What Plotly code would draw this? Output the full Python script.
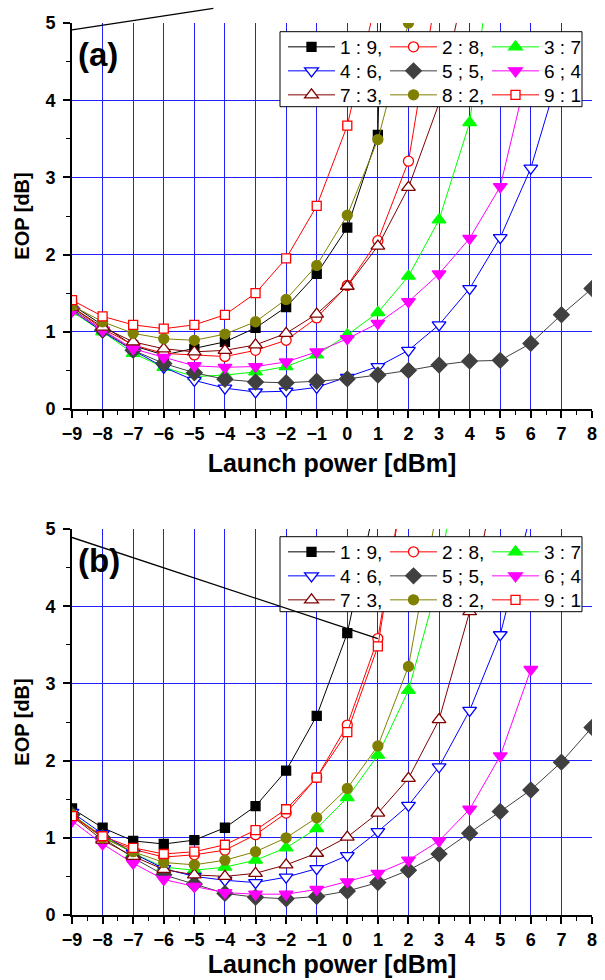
import plotly.graph_objects as go

# ---------------- data ----------------
launch_power = list(range(-9, 9))  # dBm
ratio_labels = ["1 : 9,", "2 : 8,", "3 : 7", "4 : 6,", "5 ; 5,", "6 ; 4", "7 : 3,", "8 : 2,", "9 : 1"]
x_ticks = list(range(-9, 9))
y_ticks = [0, 1, 2, 3, 4, 5]

# panel (a)
eop_a_1_9 = [1.35, 1.08, 0.82, 0.70, 0.78, 0.87, 1.05, 1.32, 1.75, 2.35, 3.55, 20.0]
eop_a_2_8 = [1.32, 1.04, 0.83, 0.72, 0.70, 0.68, 0.76, 0.89, 1.18, 1.60, 2.18, 3.21, 5.6]
eop_a_3_7 = [1.26, 1.00, 0.72, 0.54, 0.42, 0.44, 0.48, 0.55, 0.70, 0.96, 1.25, 1.72, 2.45, 3.71, 6.7]
eop_a_4_6 = [1.28, 1.00, 0.76, 0.54, 0.37, 0.27, 0.22, 0.23, 0.28, 0.41, 0.55, 0.76, 1.09, 1.56, 2.22, 3.12, 4.45]
eop_a_5_5 = [1.30, 1.02, 0.76, 0.59, 0.47, 0.385, 0.35, 0.34, 0.36, 0.39, 0.44, 0.50, 0.57, 0.62, 0.63, 0.85, 1.22, 1.56]
eop_a_6_4 = [1.27, 1.02, 0.78, 0.67, 0.56, 0.54, 0.55, 0.61, 0.74, 0.91, 1.11, 1.39, 1.75, 2.21, 2.88, 4.55]
eop_a_7_3 = [1.32, 1.06, 0.87, 0.78, 0.74, 0.76, 0.83, 0.98, 1.23, 1.59, 2.11, 2.87, 3.96, 5.8]
eop_a_8_2 = [1.34, 1.13, 0.98, 0.91, 0.89, 0.97, 1.13, 1.42, 1.86, 2.51, 3.49, 5.0, 7.5]
eop_a_9_1 = [1.41, 1.20, 1.09, 1.04, 1.09, 1.22, 1.50, 1.95, 2.63, 3.67, 5.4]

# panel (b)
eop_b_1_9 = [1.38, 1.13, 0.96, 0.92, 0.97, 1.13, 1.41, 1.87, 2.58, 3.65, 5.5]
eop_b_2_8 = [1.30, 1.00, 0.85, 0.75, 0.78, 0.84, 1.04, 1.32, 1.78, 2.46, 3.58, 6.0]
eop_b_3_7 = [1.30, 1.02, 0.80, 0.62, 0.58, 0.62, 0.71, 0.87, 1.12, 1.52, 2.07, 2.91, 4.35, 7.0]
eop_b_4_6 = [1.33, 1.05, 0.80, 0.60, 0.50, 0.45, 0.42, 0.49, 0.60, 0.77, 1.08, 1.42, 1.92, 2.65, 3.63, 5.2]
eop_b_5_5 = [1.30, 1.00, 0.74, 0.52, 0.40, 0.28, 0.23, 0.21, 0.24, 0.31, 0.42, 0.58, 0.79, 1.06, 1.34, 1.62, 1.98, 2.43]
eop_b_6_4 = [1.22, 0.92, 0.67, 0.46, 0.37, 0.29, 0.27, 0.27, 0.33, 0.43, 0.54, 0.71, 0.96, 1.37, 2.06, 3.18]
eop_b_7_3 = [1.28, 0.97, 0.76, 0.59, 0.52, 0.50, 0.54, 0.65, 0.80, 1.01, 1.32, 1.77, 2.53, 3.93, 6.0]
eop_b_8_2 = [1.30, 1.00, 0.82, 0.68, 0.65, 0.71, 0.82, 1.00, 1.26, 1.64, 2.19, 3.22, 5.4]
eop_b_9_1 = [1.28, 1.02, 0.87, 0.79, 0.82, 0.91, 1.10, 1.37, 1.78, 2.37, 3.48, 6.0]

# straight black guide segments drawn in each panel (data coordinates)
guide_a_x = [-9, -4.38]
guide_a_y = [4.91, 5.19]
guide_b_x = [-9, 1]
guide_b_y = [4.89, 3.58]

series_a = [eop_a_1_9, eop_a_2_8, eop_a_3_7, eop_a_4_6, eop_a_5_5, eop_a_6_4, eop_a_7_3, eop_a_8_2, eop_a_9_1]
series_b = [eop_b_1_9, eop_b_2_8, eop_b_3_7, eop_b_4_6, eop_b_5_5, eop_b_6_4, eop_b_7_3, eop_b_8_2, eop_b_9_1]

# ---------------- styles ----------------
styles = [
    dict(symbol="square", fill="#000000", edge="#000000", line="#000000", size=9),
    dict(symbol="circle", fill="#ffffff", edge="#ff0000", line="#ff0000", size=10),
    dict(symbol="triangle-up", fill="#00ff00", edge="#00ff00", line="#00ff00", size=12),
    dict(symbol="triangle-down", fill="#ffffff", edge="#0000ff", line="#0000ff", size=12),
    dict(symbol="diamond", fill="#404040", edge="#404040", line="#404040", size=12),
    dict(symbol="triangle-down", fill="#ff00ff", edge="#ff00ff", line="#ff00ff", size=12),
    dict(symbol="triangle-up", fill="#ffffff", edge="#800000", line="#800000", size=12),
    dict(symbol="circle", fill="#808000", edge="#808000", line="#808000", size=10),
    dict(symbol="square", fill="#ffffff", edge="#ff0000", line="#ff0000", size=9),
]

W, H = 605, 980
ML, MR, MT, MB = 72, 13, 23, 65
PW = W - ML - MR
PH = H - MT - MB


def px_x(px):
    return (px - ML) / PW


def px_y(py):
    return (H - MB - py) / PH


dom_a = [px_y(409), px_y(23)]
dom_b = [px_y(915), px_y(529)]

FONT = "Liberation Sans, Arial, sans-serif"

fig = go.Figure()


def pad(v):
    return list(v) + [None] * (len(launch_power) - len(v))


legend_rows_a = ["legend", "legend2", "legend3"]
legend_rows_b = ["legend4", "legend5", "legend6"]

for panel, data, xa, ya, rows in [("a", series_a, "x", "y", legend_rows_a),
                                   ("b", series_b, "x2", "y2", legend_rows_b)]:
    for i, (vals, st) in enumerate(zip(data, styles)):
        fig.add_trace(go.Scatter(
            x=launch_power, y=pad(vals), xaxis=xa, yaxis=ya,
            mode="lines+markers", name=ratio_labels[i],
            legend=rows[i // 3],
            line=dict(color=st["line"], width=1),
            marker=dict(symbol=st["symbol"], size=st["size"], color=st["fill"],
                        line=dict(color=st["edge"], width=1.3)),
            connectgaps=False,
        ))

axis_common = dict(
    showgrid=True, gridcolor="#2020ff", gridwidth=1, zeroline=False,
    showline=True, linecolor="black", linewidth=2, automargin=False,
    ticks="outside", ticklen=7, tickwidth=1.5, tickcolor="black",
    tickfont=dict(family=FONT, size=18, color="black", weight="bold"),
    minor=dict(ticks="outside", ticklen=4, tickwidth=1, tickcolor="black", showgrid=False),
)
mirror_common = dict(
    showgrid=False, zeroline=False, showline=True, linecolor="black", linewidth=2,
    ticks="inside", ticklen=6, tickwidth=1.5, tickcolor="black", showticklabels=False,
    minor=dict(ticks="inside", ticklen=3, tickwidth=1, tickcolor="black", showgrid=False),
)


def xtitle(standoff):
    return dict(text="Launch power [dBm]", font=dict(family=FONT, size=25, color="black", weight="bold"),
                standoff=standoff)


ytitle = dict(text="EOP [dB]", font=dict(family=FONT, size=20, color="black", weight="bold"), standoff=10)

xr = [-9, 8]
yr = [0, 5]
fig.update_layout(
    xaxis=dict(axis_common, domain=[0, 1], anchor="y", range=xr, tickmode="array", tickvals=x_ticks,
               minor_dtick=0.5, title=xtitle(12)),
    yaxis=dict(axis_common, domain=dom_a, anchor="x", range=yr, tickmode="array", tickvals=y_ticks,
               minor_dtick=0.5, title=ytitle, ticklabelstandoff=4),
    xaxis2=dict(axis_common, domain=[0, 1], anchor="y2", range=xr, tickmode="array", tickvals=x_ticks,
                minor_dtick=0.5, title=xtitle(5)),
    yaxis2=dict(axis_common, domain=dom_b, anchor="x2", range=yr, tickmode="array", tickvals=y_ticks,
                minor_dtick=0.5, title=ytitle, ticklabelstandoff=4),
    xaxis3=dict(mirror_common, overlaying="x", anchor="y", side="top", range=xr, dtick=1, tick0=-9,
                minor_dtick=0.5),
    yaxis3=dict(mirror_common, overlaying="y", anchor="x", side="right", range=yr, dtick=1, tick0=0,
                minor_dtick=0.5),
    xaxis4=dict(mirror_common, overlaying="x2", anchor="y2", side="top", range=xr, dtick=1, tick0=-9,
                minor_dtick=0.5),
    yaxis4=dict(mirror_common, overlaying="y2", anchor="x2", side="right", range=yr, dtick=1, tick0=0,
                minor_dtick=0.5),
)

# legends: one horizontal row each, three entries wide
legend_font = dict(family=FONT, size=19, color="black")
row_px_a = [47, 71, 95]
row_px_b = [552, 576, 600]
leg_x = px_x(283)
legend_layout = {}
for names, rows_px in [(legend_rows_a, row_px_a), (legend_rows_b, row_px_b)]:
    for name, rp in zip(names, rows_px):
        legend_layout[name] = dict(
            orientation="h", x=leg_x, xanchor="left", y=px_y(rp), yanchor="middle",
            bgcolor="rgba(0,0,0,0)", borderwidth=0, font=legend_font,
            itemwidth=47, entrywidth=40, entrywidthmode="pixels", itemsizing="trace",
            traceorder="normal", itemclick=False,
        )
fig.update_layout(**legend_layout)

shapes = []
# legend frames (white, covering the curves)
for top_px, bot_px in [(31.7, 106.7), (536.7, 611.7)]:
    shapes.append(dict(type="rect", xref="paper", yref="paper",
                       x0=px_x(280), x1=px_x(582), y0=px_y(bot_px), y1=px_y(top_px),
                       fillcolor="white", line=dict(color="black", width=1), layer="above"))


def to_paper_a(xv, yv):
    return ((xv - xr[0]) / (xr[1] - xr[0]),
            dom_a[0] + (yv - yr[0]) / (yr[1] - yr[0]) * (dom_a[1] - dom_a[0]))


p0 = to_paper_a(guide_a_x[0], guide_a_y[0])
p1 = to_paper_a(guide_a_x[1], guide_a_y[1])
shapes.append(dict(type="line", xref="paper", yref="paper", x0=p0[0], y0=p0[1], x1=p1[0], y1=p1[1],
                   line=dict(color="black", width=1.3), layer="above"))
shapes.append(dict(type="line", xref="x2", yref="y2", x0=guide_b_x[0], y0=guide_b_y[0],
                   x1=guide_b_x[1], y1=guide_b_y[1], line=dict(color="black", width=1.3), layer="above"))

annotations = [
    dict(text="(a)", xref="paper", yref="paper", x=px_x(98), y=px_y(54), showarrow=False,
         font=dict(family=FONT, size=33, color="black", weight="bold"), xanchor="center", yanchor="middle"),
    dict(text="(b)", xref="paper", yref="paper", x=px_x(99), y=px_y(560), showarrow=False,
         font=dict(family=FONT, size=33, color="black", weight="bold"), xanchor="center", yanchor="middle"),
]

fig.update_layout(
    width=W, height=H, margin=dict(l=ML, r=MR, t=MT, b=MB, autoexpand=False),
    paper_bgcolor="white", plot_bgcolor="white",
    shapes=shapes, annotations=annotations,
    font=dict(family=FONT, color="black"),
)

fig.write_html("out.html")
